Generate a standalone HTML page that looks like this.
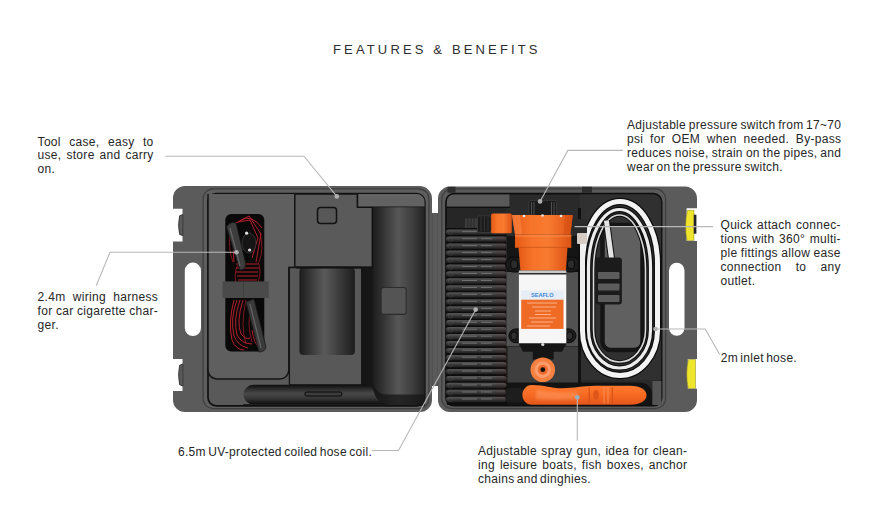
<!DOCTYPE html>
<html><head><meta charset="utf-8">
<style>
html,body{margin:0;padding:0;background:#fff;}
body{width:870px;height:519px;overflow:hidden;position:relative;font-family:"Liberation Sans",sans-serif;}
svg{position:absolute;left:0;top:0;}
.t{position:absolute;font-size:12px;line-height:13.9px;color:#262626;letter-spacing:0.3px;word-spacing:-1.3px;}
.t div{text-align:justify;text-align-last:justify;white-space:nowrap;}
.t div.l{text-align-last:left;}
.title{position:absolute;left:333px;top:42.5px;font-size:13px;line-height:13px;letter-spacing:3.15px;color:#2e2e2e;white-space:nowrap;}
</style></head><body>
<svg width="870" height="519" viewBox="0 0 870 519">
<defs>
  <linearGradient id="cyl" x1="0" x2="1" y1="0" y2="0">
    <stop offset="0" stop-color="#1c1c1c"/><stop offset="0.45" stop-color="#5a5a5a"/><stop offset="1" stop-color="#1c1c1c"/>
  </linearGradient>
  <linearGradient id="tcyl" gradientUnits="userSpaceOnUse" x1="361.7" x2="424.6" y1="0" y2="0">
    <stop offset="0" stop-color="#141414"/><stop offset="0.17" stop-color="#1c1c1c"/><stop offset="0.36" stop-color="#363636"/><stop offset="0.58" stop-color="#575757"/><stop offset="0.82" stop-color="#3c3c3c"/><stop offset="1" stop-color="#222"/>
  </linearGradient>
  <linearGradient id="bar" x1="0" x2="0" y1="0" y2="1">
    <stop offset="0" stop-color="#0e0e0e"/><stop offset="0.2" stop-color="#2a2a2a"/><stop offset="0.45" stop-color="#484848"/><stop offset="0.7" stop-color="#363636"/><stop offset="1" stop-color="#0c0c0c"/>
  </linearGradient>
  <linearGradient id="orng" x1="0" x2="1" y1="0" y2="0">
    <stop offset="0" stop-color="#e55a16"/><stop offset="0.3" stop-color="#f7742a"/><stop offset="0.6" stop-color="#f87a30"/><stop offset="1" stop-color="#dd5314"/>
  </linearGradient>
  <linearGradient id="ring" x1="0" x2="0" y1="0" y2="1">
    <stop offset="0" stop-color="#575757"/><stop offset="0.4" stop-color="#404040"/><stop offset="1" stop-color="#181818"/>
  </linearGradient>
  <linearGradient id="gun" x1="0" x2="0" y1="0" y2="1">
    <stop offset="0" stop-color="#ff7a30"/><stop offset="0.5" stop-color="#f76a22"/><stop offset="1" stop-color="#e2561a"/>
  </linearGradient>
  <filter id="blur1" x="-20%" y="-50%" width="140%" height="200%"><feGaussianBlur stdDeviation="1.5"/></filter>
</defs>


<!-- LEFT CASE -->
<path d="M185,186 H419.5 A12.5,12.5 0 0 1 432,198.5 V400 A12,12 0 0 1 420,412 H185 A12,12 0 0 1 173,400 V391 H182.5 V359 H173 V241.5 H182.5 V208.7 H173 V198 A12,12 0 0 1 185,186 Z" fill="#5b5b5b"/>
<rect x="431" y="213" width="8" height="173" fill="#5b5b5b"/><line x1="432.3" y1="213" x2="432.3" y2="386" stroke="#4a4a4a" stroke-width="0.8"/><line x1="437.8" y1="213" x2="437.8" y2="386" stroke="#4a4a4a" stroke-width="0.8"/>
<path d="M182.8,214.5 L179.6,215.8 Q177.6,225 179.6,234.4 L182.8,235.7 Z" fill="#5a5a5a" stroke="#333" stroke-width="0.9"/>
<path d="M182.8,364 L179.6,365.3 Q177.6,375 179.6,384.7 L182.8,386 Z" fill="#5a5a5a" stroke="#333" stroke-width="0.9"/>
<rect x="184.8" y="262.6" width="16.2" height="73.4" rx="8.1" fill="#fff"/>
<rect x="203.1" y="188.9" width="225.8" height="219.7" rx="10" fill="#5e5e5e" stroke="#3e3e3e" stroke-width="1.2"/>
<rect x="208" y="193.7" width="216.8" height="212.1" rx="8" fill="#595959" stroke="#111" stroke-width="1.7"/>
<!-- left platform -->
<path d="M208,194 V370 A9,9 0 0 0 217,379 H279.5 A9,9 0 0 0 288.8,370 V267.5 H294.8 V194" fill="#5f5f5f" stroke="#151515" stroke-width="1.5"/>
<!-- wiring recess -->
<rect x="225.3" y="214" width="39" height="137.6" rx="6" fill="#090909"/>
<!-- middle box -->
<path d="M294.8,194 H357.5 V207.3 H372.5 V267.5 H294.8 Z" fill="#5a5a5a" stroke="#151515" stroke-width="1.5"/>
<rect x="317.5" y="207.4" width="19" height="16.2" rx="3" fill="#575757" stroke="#111" stroke-width="1.5"/>
<!-- top strip -->
<path d="M357.5,194 H417 A7.5,7.5 0 0 1 424.5,201.5 V207.3 H357.5 Z" fill="#626262"/>
<line x1="357.5" y1="207.3" x2="424.6" y2="207.3" stroke="#111" stroke-width="1.6"/>
<line x1="357.5" y1="194" x2="357.5" y2="207.3" stroke="#111" stroke-width="1.4"/>
<!-- U surround of small cylinder -->
<path d="M289.4,267.5 V384.8 H361.7 V267.5 Z" fill="#585858" stroke="#151515" stroke-width="1.3"/>
<rect x="299.4" y="267.5" width="55.5" height="87.6" rx="4" fill="url(#cyl)"/>
<line x1="296" y1="267.6" x2="372" y2="267.6" stroke="#101010" stroke-width="2"/>
<!-- tall cylinder -->
<path d="M372.5,207.3 H424.6 V404 H361.7 V267.5 H372.5 Z" fill="url(#tcyl)"/>
<path d="M361.7,267.5 H372.5 V377 Q372.5,394.5 388,394.5 H424.6 V404 H361.7 Z" fill="#161616" opacity="0.75"/>
<line x1="372.5" y1="207.3" x2="372.5" y2="267.5" stroke="#111" stroke-width="1.4"/>
<rect x="381.1" y="287.5" width="25.1" height="26.9" rx="2.5" fill="#545454" stroke="#2b2b2b" stroke-width="1.1"/>
<!-- bottom bar -->
<path d="M253.2,384.8 H366 Q372,384.8 374,392 Q377,404.3 390,404.3 H253.2 A9.75,9.75 0 0 1 253.2,384.8 Z" fill="url(#bar)"/>
<rect x="304.8" y="392" width="37.2" height="4" rx="2" fill="#3c3c3c" stroke="#0a0a0a" stroke-width="1"/>
<line x1="243" y1="405" x2="425" y2="405" stroke="#111" stroke-width="1.7"/>
<!-- wiring harness -->
<g fill="none" stroke="#c82230" stroke-width="0.9">
  <path d="M234,224 L249,216 L261,234 L256,262"/>
  <path d="M238,222 L250,220 L258,238 L252,258"/>
  <path d="M241,220 Q252,214 262,228"/>
  <path d="M236,264 H258 M236,268 H259 M236,272 H258 M237,276 H258 M238,280 H257"/>
  <path d="M234,262 Q232,240 236,226"/>
  <path d="M237,300 Q230,318 234,336 Q238,346 248,348"/>
  <path d="M240,300 Q233,320 237,335 Q242,344 252,344"/>
  <path d="M243,300 Q236,322 241,334 Q246,340 250,338"/>
  <path d="M234,300 Q228,322 232,340 Q236,350 244,350"/>
  <path d="M252,330 Q254,344 260,348"/>
</g>
<g fill="none" stroke="#b01c26" stroke-width="0.8" opacity="0.9">
  <path d="M236,283 Q233,270 240,262 M258,262 Q262,270 258,283"/>
  <path d="M246,300 Q240,325 246,344 M252,302 Q246,324 252,342"/>
  <path d="M230,230 Q228,250 233,262"/>
  <path d="M260,232 Q264,250 259,262"/>
</g>
<path d="M226.5,227 Q230,221 236,223 L245.5,263 Q246,270 240,270 Z" fill="#3d3d3d" stroke="#1a1a1a" stroke-width="0.8"/>
<path d="M230,228 L240,266" stroke="#666" stroke-width="1.2"/>
<ellipse cx="249" cy="243" rx="7" ry="10" fill="#151515" stroke="#3a3a3a" stroke-width="0.8"/>
<circle cx="246.6" cy="233.2" r="1.6" fill="#ddd"/>
<circle cx="249.6" cy="250" r="1.6" fill="#ddd"/>
<path d="M246,302 L254,299 L266,347 Q265,352 259,352 Z" fill="#3a3a3a" stroke="#1a1a1a" stroke-width="0.8"/>
<path d="M250,304 L261,348" stroke="#646464" stroke-width="1.2"/>
<!-- strap -->
<rect x="222.5" y="281.4" width="46.3" height="16.6" fill="#4a4a4a"/>
<line x1="243.4" y1="281.3" x2="243.4" y2="297.7" stroke="#3a3a3a" stroke-width="0.8"/>
<!-- RIGHT CASE -->
<path d="M449.5,186.6 H685 A12,12 0 0 1 697,198.6 V208.2 H686.6 V241 H697 V358.9 H687.8 V388.8 H697 V400 A12,12 0 0 1 685,412 H450 A12,12 0 0 1 438,400 V198.6 A12,12 0 0 1 449.5,186.6 Z" fill="#5b5b5b"/>
<path d="M687.4,210.3 Q684,225.5 687,240.5 H694 V210.3 Z" fill="#efe52c" stroke="#8a8420" stroke-width="0.5"/>
<rect x="693.8" y="214.7" width="2.6" height="19" fill="#23232e"/>
<path d="M688.4,359.5 Q685.2,374 688.2,388.5 H695.5 V359.5 Z" fill="#efe52c" stroke="#8a8420" stroke-width="0.5"/>
<rect x="669" y="262.7" width="15.5" height="73" rx="7.7" fill="#fff"/>
<rect x="441.8" y="188.9" width="223.8" height="219.7" rx="10" fill="#5a5a5a" stroke="#3e3e3e" stroke-width="1.2"/>
<rect x="446" y="193.7" width="215.6" height="212" rx="8" fill="#2a2a2a" stroke="#0e0e0e" stroke-width="1.7"/>
<rect x="447.5" y="186.8" width="8" height="6" fill="#2e2e2e"/>
<rect x="582" y="186.8" width="10" height="6" fill="#2e2e2e"/>
<!-- top strip -->
<path d="M446.8,206.7 V202 A7,7 0 0 1 453.8,194.6 H509.4 V206.7 Z" fill="#595959"/>
<line x1="446" y1="207.4" x2="510" y2="207.4" stroke="#0e0e0e" stroke-width="1.3"/>
<!-- coil area -->
<rect x="446.8" y="208" width="61" height="196.8" fill="#0c0c0c"/>
<rect x="446.8" y="208" width="61" height="20" fill="#262626"/>
<g>
<rect x="446" y="229.5" width="60.5" height="5.6" rx="2.8" fill="url(#ring)"/>
<circle cx="450.5" cy="232.3" r="2.2" fill="none" stroke="#555" stroke-width="0.6" opacity="0.6"/>
<path d="M462,231.7 H477 M481,231.7 H492" stroke="#a8a8a8" stroke-width="0.9" opacity="0.5"/>
<rect x="446" y="236.5" width="60.5" height="5.6" rx="2.8" fill="url(#ring)"/>
<circle cx="450.5" cy="239.3" r="2.2" fill="none" stroke="#555" stroke-width="0.6" opacity="0.6"/>
<path d="M462,238.7 H477 M481,238.7 H492" stroke="#a8a8a8" stroke-width="0.9" opacity="0.5"/>
<rect x="446" y="243.4" width="60.5" height="5.6" rx="2.8" fill="url(#ring)"/>
<circle cx="450.5" cy="246.2" r="2.2" fill="none" stroke="#555" stroke-width="0.6" opacity="0.6"/>
<path d="M462,245.6 H477 M481,245.6 H492" stroke="#a8a8a8" stroke-width="0.9" opacity="0.5"/>
<rect x="446" y="250.4" width="60.5" height="5.6" rx="2.8" fill="url(#ring)"/>
<circle cx="450.5" cy="253.2" r="2.2" fill="none" stroke="#555" stroke-width="0.6" opacity="0.6"/>
<path d="M462,252.6 H477 M481,252.6 H492" stroke="#a8a8a8" stroke-width="0.9" opacity="0.5"/>
<rect x="446" y="257.4" width="60.5" height="5.6" rx="2.8" fill="url(#ring)"/>
<circle cx="450.5" cy="260.2" r="2.2" fill="none" stroke="#555" stroke-width="0.6" opacity="0.6"/>
<path d="M462,259.6 H477 M481,259.6 H492" stroke="#a8a8a8" stroke-width="0.9" opacity="0.5"/>
<rect x="446" y="264.4" width="60.5" height="5.6" rx="2.8" fill="url(#ring)"/>
<circle cx="450.5" cy="267.2" r="2.2" fill="none" stroke="#555" stroke-width="0.6" opacity="0.6"/>
<path d="M462,266.6 H477 M481,266.6 H492" stroke="#a8a8a8" stroke-width="0.9" opacity="0.5"/>
<rect x="446" y="271.3" width="60.5" height="5.6" rx="2.8" fill="url(#ring)"/>
<circle cx="450.5" cy="274.1" r="2.2" fill="none" stroke="#555" stroke-width="0.6" opacity="0.6"/>
<path d="M462,273.5 H477 M481,273.5 H492" stroke="#a8a8a8" stroke-width="0.9" opacity="0.5"/>
<rect x="446" y="278.3" width="60.5" height="5.6" rx="2.8" fill="url(#ring)"/>
<circle cx="450.5" cy="281.1" r="2.2" fill="none" stroke="#555" stroke-width="0.6" opacity="0.6"/>
<path d="M462,280.5 H477 M481,280.5 H492" stroke="#a8a8a8" stroke-width="0.9" opacity="0.5"/>
<rect x="446" y="285.3" width="60.5" height="5.6" rx="2.8" fill="url(#ring)"/>
<circle cx="450.5" cy="288.1" r="2.2" fill="none" stroke="#555" stroke-width="0.6" opacity="0.6"/>
<path d="M462,287.5 H477 M481,287.5 H492" stroke="#a8a8a8" stroke-width="0.9" opacity="0.5"/>
<rect x="446" y="292.2" width="60.5" height="5.6" rx="2.8" fill="url(#ring)"/>
<circle cx="450.5" cy="295.0" r="2.2" fill="none" stroke="#555" stroke-width="0.6" opacity="0.6"/>
<path d="M462,294.4 H477 M481,294.4 H492" stroke="#a8a8a8" stroke-width="0.9" opacity="0.5"/>
<rect x="446" y="299.2" width="60.5" height="5.6" rx="2.8" fill="url(#ring)"/>
<circle cx="450.5" cy="302.0" r="2.2" fill="none" stroke="#555" stroke-width="0.6" opacity="0.6"/>
<path d="M462,301.4 H477 M481,301.4 H492" stroke="#a8a8a8" stroke-width="0.9" opacity="0.5"/>
<rect x="446" y="306.2" width="60.5" height="5.6" rx="2.8" fill="url(#ring)"/>
<circle cx="450.5" cy="309.0" r="2.2" fill="none" stroke="#555" stroke-width="0.6" opacity="0.6"/>
<path d="M462,308.4 H477 M481,308.4 H492" stroke="#a8a8a8" stroke-width="0.9" opacity="0.5"/>
<rect x="446" y="313.1" width="60.5" height="5.6" rx="2.8" fill="url(#ring)"/>
<circle cx="450.5" cy="315.9" r="2.2" fill="none" stroke="#555" stroke-width="0.6" opacity="0.6"/>
<path d="M462,315.3 H477 M481,315.3 H492" stroke="#a8a8a8" stroke-width="0.9" opacity="0.5"/>
<rect x="446" y="320.1" width="60.5" height="5.6" rx="2.8" fill="url(#ring)"/>
<circle cx="450.5" cy="322.9" r="2.2" fill="none" stroke="#555" stroke-width="0.6" opacity="0.6"/>
<path d="M462,322.3 H477 M481,322.3 H492" stroke="#a8a8a8" stroke-width="0.9" opacity="0.5"/>
<rect x="446" y="327.1" width="60.5" height="5.6" rx="2.8" fill="url(#ring)"/>
<circle cx="450.5" cy="329.9" r="2.2" fill="none" stroke="#555" stroke-width="0.6" opacity="0.6"/>
<path d="M462,329.3 H477 M481,329.3 H492" stroke="#a8a8a8" stroke-width="0.9" opacity="0.5"/>
<rect x="446" y="334.1" width="60.5" height="5.6" rx="2.8" fill="url(#ring)"/>
<circle cx="450.5" cy="336.9" r="2.2" fill="none" stroke="#555" stroke-width="0.6" opacity="0.6"/>
<path d="M462,336.2 H477 M481,336.2 H492" stroke="#a8a8a8" stroke-width="0.9" opacity="0.5"/>
<rect x="446" y="341.0" width="60.5" height="5.6" rx="2.8" fill="url(#ring)"/>
<circle cx="450.5" cy="343.8" r="2.2" fill="none" stroke="#555" stroke-width="0.6" opacity="0.6"/>
<path d="M462,343.2 H477 M481,343.2 H492" stroke="#a8a8a8" stroke-width="0.9" opacity="0.5"/>
<rect x="446" y="348.0" width="60.5" height="5.6" rx="2.8" fill="url(#ring)"/>
<circle cx="450.5" cy="350.8" r="2.2" fill="none" stroke="#555" stroke-width="0.6" opacity="0.6"/>
<path d="M462,350.2 H477 M481,350.2 H492" stroke="#a8a8a8" stroke-width="0.9" opacity="0.5"/>
<rect x="446" y="355.0" width="60.5" height="5.6" rx="2.8" fill="url(#ring)"/>
<circle cx="450.5" cy="357.8" r="2.2" fill="none" stroke="#555" stroke-width="0.6" opacity="0.6"/>
<path d="M462,357.2 H477 M481,357.2 H492" stroke="#a8a8a8" stroke-width="0.9" opacity="0.5"/>
<rect x="446" y="361.9" width="60.5" height="5.6" rx="2.8" fill="url(#ring)"/>
<circle cx="450.5" cy="364.7" r="2.2" fill="none" stroke="#555" stroke-width="0.6" opacity="0.6"/>
<path d="M462,364.1 H477 M481,364.1 H492" stroke="#a8a8a8" stroke-width="0.9" opacity="0.5"/>
<rect x="446" y="368.9" width="60.5" height="5.6" rx="2.8" fill="url(#ring)"/>
<circle cx="450.5" cy="371.7" r="2.2" fill="none" stroke="#555" stroke-width="0.6" opacity="0.6"/>
<path d="M462,371.1 H477 M481,371.1 H492" stroke="#a8a8a8" stroke-width="0.9" opacity="0.5"/>
<rect x="446" y="375.9" width="60.5" height="5.6" rx="2.8" fill="url(#ring)"/>
<circle cx="450.5" cy="378.7" r="2.2" fill="none" stroke="#555" stroke-width="0.6" opacity="0.6"/>
<path d="M462,378.1 H477 M481,378.1 H492" stroke="#a8a8a8" stroke-width="0.9" opacity="0.5"/>
<rect x="446" y="382.8" width="60.5" height="5.6" rx="2.8" fill="url(#ring)"/>
<circle cx="450.5" cy="385.6" r="2.2" fill="none" stroke="#555" stroke-width="0.6" opacity="0.6"/>
<path d="M462,385.0 H477 M481,385.0 H492" stroke="#a8a8a8" stroke-width="0.9" opacity="0.5"/>
<rect x="446" y="389.8" width="60.5" height="5.6" rx="2.8" fill="url(#ring)"/>
<circle cx="450.5" cy="392.6" r="2.2" fill="none" stroke="#555" stroke-width="0.6" opacity="0.6"/>
<path d="M462,392.0 H477 M481,392.0 H492" stroke="#a8a8a8" stroke-width="0.9" opacity="0.5"/>
<rect x="446" y="396.8" width="60.5" height="5.6" rx="2.8" fill="url(#ring)"/>
<circle cx="450.5" cy="399.6" r="2.2" fill="none" stroke="#555" stroke-width="0.6" opacity="0.6"/>
<path d="M462,399.0 H477 M481,399.0 H492" stroke="#a8a8a8" stroke-width="0.9" opacity="0.5"/>
</g>
<rect x="496" y="228" width="11" height="172" fill="#7a2018" opacity="0.07"/>
<!-- pump mount frame -->
<rect x="506.5" y="208" width="73.5" height="175.5" fill="#2b2b2b"/>
<rect x="506.5" y="236" width="12.5" height="110" fill="#525252"/><rect x="506.5" y="236" width="12.5" height="36" fill="#151515"/>
<rect x="566.3" y="236" width="13.7" height="110" fill="#525252"/><rect x="566.3" y="236" width="13.7" height="36" fill="#151515"/>
<rect x="508" y="347" width="70" height="36.6" fill="#3e3e3e"/>
<rect x="505.5" y="257" width="19" height="15" rx="7.5" fill="#1a1a1a" stroke="#0a0a0a" stroke-width="1"/>
<ellipse cx="514.2" cy="264.3" rx="3.6" ry="4.5" fill="#2c2c2c" stroke="#070707" stroke-width="1"/>
<rect x="561" y="257" width="19" height="15" rx="7.5" fill="#1a1a1a" stroke="#0a0a0a" stroke-width="1"/>
<ellipse cx="571" cy="264.3" rx="3.6" ry="4.5" fill="#2c2c2c" stroke="#070707" stroke-width="1"/>
<rect x="508.9" y="328.9" width="67" height="13.8" rx="6.9" fill="#1c1c1c" stroke="#0a0a0a" stroke-width="1"/>
<ellipse cx="514" cy="335.8" rx="3.2" ry="4" fill="#2f2f2f" stroke="#0a0a0a" stroke-width="1"/>
<ellipse cx="569.7" cy="335.8" rx="3.2" ry="4" fill="#2f2f2f" stroke="#0a0a0a" stroke-width="1"/>
<!-- hose compartment -->
<path d="M580,194.6 H653.6 A8,8 0 0 1 661.2,202.6 V380 H580 Z" fill="#303030"/>
<rect x="578" y="208" width="3" height="175" fill="#111"/>
<rect x="602.5" y="225" width="40" height="125" rx="8" fill="#606060" stroke="#151515" stroke-width="4.5"/>
<!-- gun compartment -->
<path d="M507,382.4 H640 A12.4,12.4 0 0 1 652.4,394.8 V405 H507 Z" fill="#131313"/>
<!-- hose -->
<g fill="none">
  <path d="M582.5,263.5 V330.5 A37.5,45 0 0 0 657.5,330.5 V263.5 A37.5,62 0 0 0 582.5,263.5 Z" stroke="#0c0c0c" stroke-width="7.5"/>
  <path d="M582.5,263.5 V330.5 A37.5,45 0 0 0 657.5,330.5 V263.5 A37.5,62 0 0 0 582.5,263.5 Z" stroke="#f4f4f4" stroke-width="5"/>
  <path d="M582.5,238 V300" stroke="#f0f0f0" stroke-width="5"/>
  <path d="M588.5,267.5 V330 A31,38 0 0 0 650.5,330 V267.5 A31,58 0 0 0 588.5,267.5 Z" stroke="#0c0c0c" stroke-width="5.5"/>
  <path d="M588.5,267.5 V330 A31,38 0 0 0 650.5,330 V267.5 A31,58 0 0 0 588.5,267.5 Z" stroke="#ececec" stroke-width="3.2"/>
  <path d="M593.5,270 V330 A26,32 0 0 0 645.5,330 V270 A26,55 0 0 0 593.5,270 Z" stroke="#0c0c0c" stroke-width="3.6"/>
  <path d="M593.5,270 V330 A26,32 0 0 0 645.5,330 V270 A26,55 0 0 0 593.5,270 Z" stroke="#d8d8d8" stroke-width="1.6"/>
  <path d="M606.4,220.5 L611.8,261" stroke="#111" stroke-width="7"/>
  <path d="M606.4,220.5 L611.8,261" stroke="#e4e4e4" stroke-width="5"/>
</g>
<!-- filter -->
<rect x="595.6" y="257.5" width="26.3" height="47" rx="3" fill="#1b1b1b"/>
<rect x="598" y="272" width="21.5" height="7" rx="1" fill="#5c5c5c"/>
<rect x="598" y="283.5" width="21.5" height="7" rx="1" fill="#5c5c5c"/>
<rect x="598" y="295" width="21.5" height="7" rx="1" fill="#5c5c5c"/>
<!-- outlet fitting -->
<rect x="573" y="219" width="14" height="14" fill="#2a2a2a"/>
<rect x="577" y="233" width="10" height="11" rx="1" fill="#d6ccc4"/>
<!-- pump -->
<rect x="528.9" y="200.3" width="27.7" height="15.5" rx="2" fill="#1b1b1b" stroke="#3a3a3a" stroke-width="1"/>
<path d="M531.5,202 V215 M534,202 V215 M551.5,202 V215 M554,202 V215" stroke="#585858" stroke-width="0.9"/>
<rect x="465" y="218.5" width="13" height="9.5" fill="#3c3c3c"/><path d="M468,218.5 V228 M471,218.5 V228 M474,218.5 V228" stroke="#222" stroke-width="0.8"/>
<rect x="477.5" y="215.9" width="13.6" height="16.4" rx="1.5" fill="#1b1b1b" stroke="#3c3c3c" stroke-width="0.8"/><path d="M481,217 V231 M484.5,217 V231 M488,217 V231" stroke="#3a3a3a" stroke-width="0.8"/>
<rect x="491.1" y="213.5" width="20.7" height="19.7" rx="1.5" fill="url(#orng)"/>
<path d="M511.9,215 H572.8 L570.5,234.3 H515 Z" fill="url(#orng)"/>
<path d="M515,234.3 H571.3 V247.4 H515 Z" fill="url(#orng)"/>
<line x1="515" y1="236" x2="571.3" y2="236" stroke="#ff9a5a" stroke-width="1.2" opacity="0.7"/>
<path d="M511.9,215 H520 L522,234.3 H515 Z" fill="#ff8a48" opacity="0.55"/>
<path d="M565,215 H572.8 L570.5,234.3 H563.5 Z" fill="#c9480f" opacity="0.35"/>
<circle cx="524" cy="216" r="1.3" fill="#e8e8e8"/><circle cx="542.5" cy="215.5" r="1.3" fill="#e8e8e8"/><circle cx="561" cy="216" r="1.3" fill="#e8e8e8"/>
<line x1="515" y1="247.4" x2="571.3" y2="247.4" stroke="#c44a10" stroke-width="1"/>
<path d="M518.5,247.4 H567.5 L565.9,270.5 H520.4 Z" fill="url(#orng)"/>
<rect x="518.9" y="270.5" width="47.4" height="2.5" fill="#c8c8c8"/>
<rect x="518.9" y="274.5" width="47.4" height="69" fill="#f6f6f6"/>
<rect x="521.2" y="290.4" width="42.3" height="9.3" fill="#e6edf5"/>
<text x="542.3" y="297.3" font-family="Liberation Sans" font-size="5.6" font-weight="bold" fill="#3a8ad8" text-anchor="middle">SEAFLO</text>
<rect x="521.2" y="299.7" width="42.3" height="29.2" fill="#ef6b25"/>
<g stroke="#ffd2b8" stroke-width="0.7">
  <line x1="527" y1="303" x2="557" y2="303"/>
  <line x1="532" y1="307" x2="556" y2="307"/>
  <line x1="535" y1="311" x2="551" y2="311"/>
  <line x1="535" y1="314.5" x2="551" y2="314.5"/>
  <line x1="529" y1="318" x2="556" y2="318"/>
  <line x1="531" y1="322" x2="553" y2="322"/>
  <line x1="527" y1="326" x2="550" y2="326"/>
</g>
<path d="M518.9,343.5 H566.3 L562,351.7 H523 Z" fill="#151515"/>
<rect x="532.8" y="351" width="20.8" height="8.6" fill="#151515"/>
<circle cx="542.8" cy="344.5" r="1.6" fill="#ddd"/>
<circle cx="542.8" cy="369.7" r="12.3" fill="#f5803f"/>
<circle cx="542.8" cy="369.7" r="8.2" fill="#fa9c6c"/>
<circle cx="542.8" cy="369.7" r="5" fill="#ef6a2c"/>
<circle cx="542.8" cy="369.7" r="2.4" fill="#111"/>
<!-- spray gun -->
<rect x="652.4" y="381" width="9" height="24" fill="#545454"/>

<rect x="505.5" y="388" width="18" height="14.5" rx="3" fill="#1d1d1d"/>
<path d="M532,385 C545,385 552,388.5 562,388.3 C575,388 582,386 595,385.8 H630 C641,386 646.5,390 646.5,395.3 C646.5,400.5 641,404.8 630,404.8 H532 C526,404.8 522.4,400 522.4,395 C522.4,390 526,385 532,385 Z" fill="url(#gun)"/>
<path d="M536,390 C550,391 560,393 578,392.5 L578,399 C560,400 548,400 536,399 Z" fill="#ffa06a" opacity="0.5" filter="url(#blur1)"/>
<path d="M589.2,387 V403.5 M612.2,387 V403.5" stroke="#d04c14" stroke-width="1"/>
<ellipse cx="596" cy="395" rx="3" ry="5" fill="#e0561a"/>
<path d="M604,387 V403.5 M608,387 V403.5" stroke="#ff9c66" stroke-width="0.9" opacity="0.8"/>
<!-- leader lines -->
<g stroke="#b8b8b8" stroke-width="1.1" fill="none">
  <polyline points="165.5,156.2 304,156.2 336.8,196.4"/>
  <polyline points="236.5,252.3 110,252.3 96.2,285.7"/>
  <polyline points="372,450.5 398.5,450.5 475.7,309.6"/>
  <polyline points="540.1,201.4 567.8,150.4 623.1,150.4"/>
  <polyline points="574.6,226.6 713,226.6"/>
  <polyline points="655.5,329 705.2,329 719.7,354.5"/>
  <polyline points="577.3,397.3 577.3,440.7"/>
</g>
<g fill="#b0b0b0">
  <circle cx="336.8" cy="196.4" r="2.3"/>
  <circle cx="236.5" cy="252.3" r="2.3"/>
  <circle cx="475.7" cy="309.6" r="2.3"/>
  <circle cx="540.1" cy="201.4" r="2.3"/>
  <circle cx="655.5" cy="329" r="2.3"/>
  <circle cx="577.3" cy="397.3" r="2.3" fill="#9ab0c0"/>
</g>
</svg>

<div class="title">FEATURES &amp; BENEFITS</div>
<div class="t" style="left:37.6px;top:135.5px;width:116px;"><div>Tool case, easy to</div><div>use, store and carry</div><div class="l">on.</div></div>
<div class="t" style="left:37.6px;top:290.7px;width:120.5px;"><div>2.4m wiring harness</div><div>for car cigarette char-</div><div class="l">ger.</div></div>
<div class="t" style="left:178px;top:445.8px;"><div class="l">6.5m UV-protected coiled hose coil.</div></div>
<div class="t" style="left:478px;top:445.1px;width:209.3px;"><div>Adjustable spray gun, idea for clean-</div><div>ing leisure boats, fish boxes, anchor</div><div class="l">chains and dinghies.</div></div>
<div class="t" style="left:627px;top:118.9px;width:214.3px;"><div>Adjustable pressure switch from 17~70</div><div>psi for OEM when needed. By-pass</div><div>reduces noise, strain on the pipes, and</div><div class="l">wear on the pressure switch.</div></div>
<div class="t" style="left:720.5px;top:219.0px;width:120.3px;"><div>Quick attach connec-</div><div>tions with 360° multi-</div><div>ple fittings allow ease</div><div>connection to any</div><div class="l">outlet.</div></div>
<div class="t" style="left:720.7px;top:352.2px;"><div class="l">2m inlet hose.</div></div>
</body></html>
